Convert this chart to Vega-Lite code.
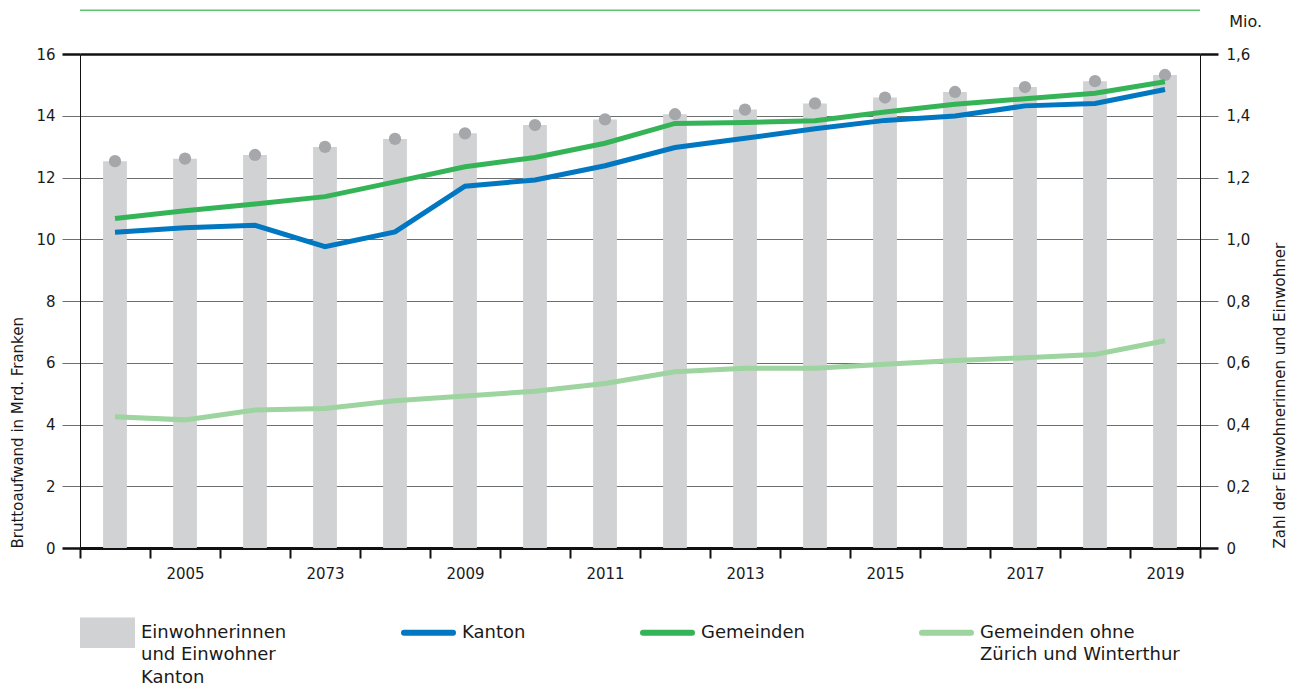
{
  "$schema": "https://vega.github.io/schema/vega-lite/v6.json",
  "width": 1120,
  "height": 494,
  "autosize": {"type": "pad"},
  "padding": {"left": 10, "top": 9, "right": 5, "bottom": 0},
  "background": "white",
  "title": {"text": "Mio.", "anchor": "end", "frame": "group", "fontSize": 16, "fontWeight": "normal", "font": "DejaVu Sans", "color": "#1a1a1a", "dx": 62, "offset": -21},
  "config": {
    "view": {"stroke": null},
    "font": "DejaVu Sans",
    "axis": {"labelFont": "DejaVu Sans", "titleFont": "DejaVu Sans", "labelColor": "#1a1a1a", "titleColor": "#1a1a1a", "titleFontWeight": "normal"},
    "legend": {"labelFont": "DejaVu Sans"}
  },
  "datasets": {
    "pop": [
      {"year": "2004", "pop": 1.253}, {"year": "2005", "pop": 1.261}, {"year": "2006", "pop": 1.273}, {"year": "2007", "pop": 1.299},
      {"year": "2008", "pop": 1.325}, {"year": "2009", "pop": 1.343}, {"year": "2010", "pop": 1.370}, {"year": "2011", "pop": 1.388},
      {"year": "2012", "pop": 1.405}, {"year": "2013", "pop": 1.420}, {"year": "2014", "pop": 1.440}, {"year": "2015", "pop": 1.459},
      {"year": "2016", "pop": 1.477}, {"year": "2017", "pop": 1.493}, {"year": "2018", "pop": 1.512}, {"year": "2019", "pop": 1.532}
    ],
    "fin": [
      {"year": "2004", "series": "Gemeinden ohne Zürich und Winterthur", "value": 4.25},
      {"year": "2005", "series": "Gemeinden ohne Zürich und Winterthur", "value": 4.15},
      {"year": "2006", "series": "Gemeinden ohne Zürich und Winterthur", "value": 4.47},
      {"year": "2007", "series": "Gemeinden ohne Zürich und Winterthur", "value": 4.52},
      {"year": "2008", "series": "Gemeinden ohne Zürich und Winterthur", "value": 4.77},
      {"year": "2009", "series": "Gemeinden ohne Zürich und Winterthur", "value": 4.92},
      {"year": "2010", "series": "Gemeinden ohne Zürich und Winterthur", "value": 5.08},
      {"year": "2011", "series": "Gemeinden ohne Zürich und Winterthur", "value": 5.33},
      {"year": "2012", "series": "Gemeinden ohne Zürich und Winterthur", "value": 5.71},
      {"year": "2013", "series": "Gemeinden ohne Zürich und Winterthur", "value": 5.82},
      {"year": "2014", "series": "Gemeinden ohne Zürich und Winterthur", "value": 5.82},
      {"year": "2015", "series": "Gemeinden ohne Zürich und Winterthur", "value": 5.95},
      {"year": "2016", "series": "Gemeinden ohne Zürich und Winterthur", "value": 6.07},
      {"year": "2017", "series": "Gemeinden ohne Zürich und Winterthur", "value": 6.16},
      {"year": "2018", "series": "Gemeinden ohne Zürich und Winterthur", "value": 6.27},
      {"year": "2019", "series": "Gemeinden ohne Zürich und Winterthur", "value": 6.71},
      {"year": "2004", "series": "Kanton", "value": 10.23},
      {"year": "2005", "series": "Kanton", "value": 10.37},
      {"year": "2006", "series": "Kanton", "value": 10.45},
      {"year": "2007", "series": "Kanton", "value": 9.76},
      {"year": "2008", "series": "Kanton", "value": 10.24},
      {"year": "2009", "series": "Kanton", "value": 11.72},
      {"year": "2010", "series": "Kanton", "value": 11.92},
      {"year": "2011", "series": "Kanton", "value": 12.38},
      {"year": "2012", "series": "Kanton", "value": 12.97},
      {"year": "2013", "series": "Kanton", "value": 13.27},
      {"year": "2014", "series": "Kanton", "value": 13.58},
      {"year": "2015", "series": "Kanton", "value": 13.85},
      {"year": "2016", "series": "Kanton", "value": 13.99},
      {"year": "2017", "series": "Kanton", "value": 14.32},
      {"year": "2018", "series": "Kanton", "value": 14.40},
      {"year": "2019", "series": "Kanton", "value": 14.85},
      {"year": "2004", "series": "Gemeinden", "value": 10.67},
      {"year": "2005", "series": "Gemeinden", "value": 10.92},
      {"year": "2006", "series": "Gemeinden", "value": 11.14},
      {"year": "2007", "series": "Gemeinden", "value": 11.38},
      {"year": "2008", "series": "Gemeinden", "value": 11.86},
      {"year": "2009", "series": "Gemeinden", "value": 12.35},
      {"year": "2010", "series": "Gemeinden", "value": 12.65},
      {"year": "2011", "series": "Gemeinden", "value": 13.11},
      {"year": "2012", "series": "Gemeinden", "value": 13.75},
      {"year": "2013", "series": "Gemeinden", "value": 13.78},
      {"year": "2014", "series": "Gemeinden", "value": 13.84},
      {"year": "2015", "series": "Gemeinden", "value": 14.12},
      {"year": "2016", "series": "Gemeinden", "value": 14.37},
      {"year": "2017", "series": "Gemeinden", "value": 14.55},
      {"year": "2018", "series": "Gemeinden", "value": 14.73},
      {"year": "2019", "series": "Gemeinden", "value": 15.10}
    ]
  },
  "layer": [
    {
      "data": {"name": "pop"},
      "encoding": {
        "x": {
          "field": "year", "type": "ordinal",
          "scale": {"paddingInner": 0, "paddingOuter": 0},
          "axis": {
            "title": null, "labelAngle": 0, "labelFontSize": 15, "labelPadding": 8,
            "labelExpr": "datum.value == '2007' ? '2073' : (toNumber(datum.value) % 2 == 1 ? datum.value : '')",
            "tickBand": "extent", "tickSize": 10, "tickWidth": 2, "tickColor": "#111",
            "domainColor": "#111", "domainWidth": 3, "grid": false
          }
        },
        "y": {
          "field": "pop", "type": "quantitative",
          "scale": {"domain": [0, 1.6], "nice": false},
          "axis": {
            "orient": "right", "title": "Zahl der Einwohnerinnen und Einwohner",
            "titleAngle": -90, "titleAnchor": "start", "titleFontSize": 15, "titlePadding": 38,
            "values": [0, 0.2, 0.4, 0.6, 0.8, 1.0, 1.2, 1.4, 1.6],
            "labelExpr": "datum.value == 0 ? '0' : replace(format(datum.value, '.1f'), '.', ',')",
            "labelFontSize": 15, "labelPadding": 8, "grid": false,
            "tickSize": 18,
            "tickColor": {"condition": {"test": "datum.value == 0 || datum.value > 1.59", "value": "#111"}, "value": "#6d6e70"},
            "tickWidth": {"condition": {"test": "datum.value == 0 || datum.value > 1.59", "value": 2.5}, "value": 1},
            "domainColor": "#111", "domainWidth": 1
          }
        }
      },
      "layer": [
        {
          "mark": {"type": "bar", "width": {"band": 0.34}},
          "encoding": {
            "color": {
              "datum": "Einwohnerinnen und Einwohner Kanton", "type": "nominal",
              "scale": {
                "domain": ["Einwohnerinnen und Einwohner Kanton", "Kanton", "Gemeinden", "Gemeinden ohne Zürich und Winterthur"],
                "range": ["#d1d2d4", "#0077c0", "#35b457", "#9dd49f"]
              },
              "legend": {
                "orient": "bottom", "direction": "horizontal", "columns": 4, "title": null,
                "columnPadding": 105, "offset": 24,
                "symbolSize": 2401, "symbolStrokeWidth": 6,
                "labelFontSize": 18, "labelColor": "#1a1a1a", "labelOffset": 6, "labelLimit": 400,
                "labelExpr": "datum.label == 'Einwohnerinnen und Einwohner Kanton' ? ['Einwohnerinnen', 'und Einwohner', 'Kanton'] : (datum.label == 'Gemeinden ohne Zürich und Winterthur' ? ['Gemeinden ohne', 'Zürich und Winterthur', ''] : [datum.label, '', ''])",
                "encode": {
                  "labels": {"update": {"lineHeight": {"value": 22.5}}},
                  "symbols": {
                    "update": {
                      "shape": {"signal": "datum.value === 'Einwohnerinnen und Einwohner Kanton' ? 'M-1,-0.5H1V0.5H-1Z' : 'M-1,0H1'"},
                      "fill": {"signal": "datum.value === 'Einwohnerinnen und Einwohner Kanton' ? '#d1d2d4' : 'transparent'"},
                      "stroke": {"signal": "datum.value === 'Einwohnerinnen und Einwohner Kanton' ? 'transparent' : (datum.value === 'Kanton' ? '#0077c0' : (datum.value === 'Gemeinden' ? '#35b457' : '#9dd49f'))"},
                      "strokeWidth": {"value": 6},
                      "strokeCap": {"value": "round"},
                      "opacity": {"value": 1}
                    }
                  }
                }
              }
            }
          }
        },
        {
          "mark": {"type": "point", "filled": true, "size": 150, "color": "#a6a7aa", "opacity": 1}
        }
      ]
    },
    {
      "layer": [
        {
          "data": {"values": [{}]},
          "mark": {"type": "rule", "color": "#5cc56c", "strokeWidth": 1.5},
          "encoding": {"y": {"datum": 17.42, "type": "quantitative"}}
        },
        {
          "data": {"name": "fin"},
          "mark": {"type": "line", "strokeWidth": 5},
          "encoding": {
            "x": {"field": "year", "type": "ordinal"},
            "y": {"field": "value", "type": "quantitative"},
            "color": {
              "field": "series", "type": "nominal",
              "scale": {
                "domain": ["Einwohnerinnen und Einwohner Kanton", "Kanton", "Gemeinden", "Gemeinden ohne Zürich und Winterthur"],
                "range": ["#d1d2d4", "#0077c0", "#35b457", "#9dd49f"]
              },
              "legend": {
                "orient": "bottom", "direction": "horizontal", "columns": 4, "title": null,
                "columnPadding": 105, "offset": 24,
                "symbolSize": 2401, "symbolStrokeWidth": 6,
                "labelFontSize": 18, "labelColor": "#1a1a1a", "labelOffset": 6, "labelLimit": 400,
                "labelExpr": "datum.label == 'Einwohnerinnen und Einwohner Kanton' ? ['Einwohnerinnen', 'und Einwohner', 'Kanton'] : (datum.label == 'Gemeinden ohne Zürich und Winterthur' ? ['Gemeinden ohne', 'Zürich und Winterthur', ''] : [datum.label, '', ''])",
                "encode": {
                  "labels": {"update": {"lineHeight": {"value": 22.5}}},
                  "symbols": {
                    "update": {
                      "shape": {"signal": "datum.value === 'Einwohnerinnen und Einwohner Kanton' ? 'M-1,-0.5H1V0.5H-1Z' : 'M-1,0H1'"},
                      "fill": {"signal": "datum.value === 'Einwohnerinnen und Einwohner Kanton' ? '#d1d2d4' : 'transparent'"},
                      "stroke": {"signal": "datum.value === 'Einwohnerinnen und Einwohner Kanton' ? 'transparent' : (datum.value === 'Kanton' ? '#0077c0' : (datum.value === 'Gemeinden' ? '#35b457' : '#9dd49f'))"},
                      "strokeWidth": {"value": 6},
                      "strokeCap": {"value": "round"},
                      "opacity": {"value": 1}
                    }
                  }
                }
              }
            }
          }
        }
      ],
      "encoding": {
        "y": {
          "type": "quantitative",
          "scale": {"domain": [0, 16], "nice": false},
          "axis": {
            "orient": "left", "title": "Bruttoaufwand in Mrd. Franken", "titleAnchor": "start",
            "titleFontSize": 15, "titlePadding": 10,
            "values": [0, 2, 4, 6, 8, 10, 12, 14, 16],
            "labelFontSize": 15, "labelPadding": 7,
            "tickSize": 18,
            "tickColor": {"condition": {"test": "datum.value == 0 || datum.value == 16", "value": "#111"}, "value": "#6d6e70"},
            "tickWidth": {"condition": {"test": "datum.value == 0 || datum.value == 16", "value": 2.5}, "value": 1},
            "grid": true,
            "gridColor": {"condition": {"test": "datum.value == 0 || datum.value == 16", "value": "#111"}, "value": "#6d6e70"},
            "gridWidth": {"condition": {"test": "datum.value == 0 || datum.value == 16", "value": 2.5}, "value": 1},
            "domainColor": "#111", "domainWidth": 1
          }
        }
      }
    }
  ],
  "resolve": {"scale": {"y": "independent"}}
}
